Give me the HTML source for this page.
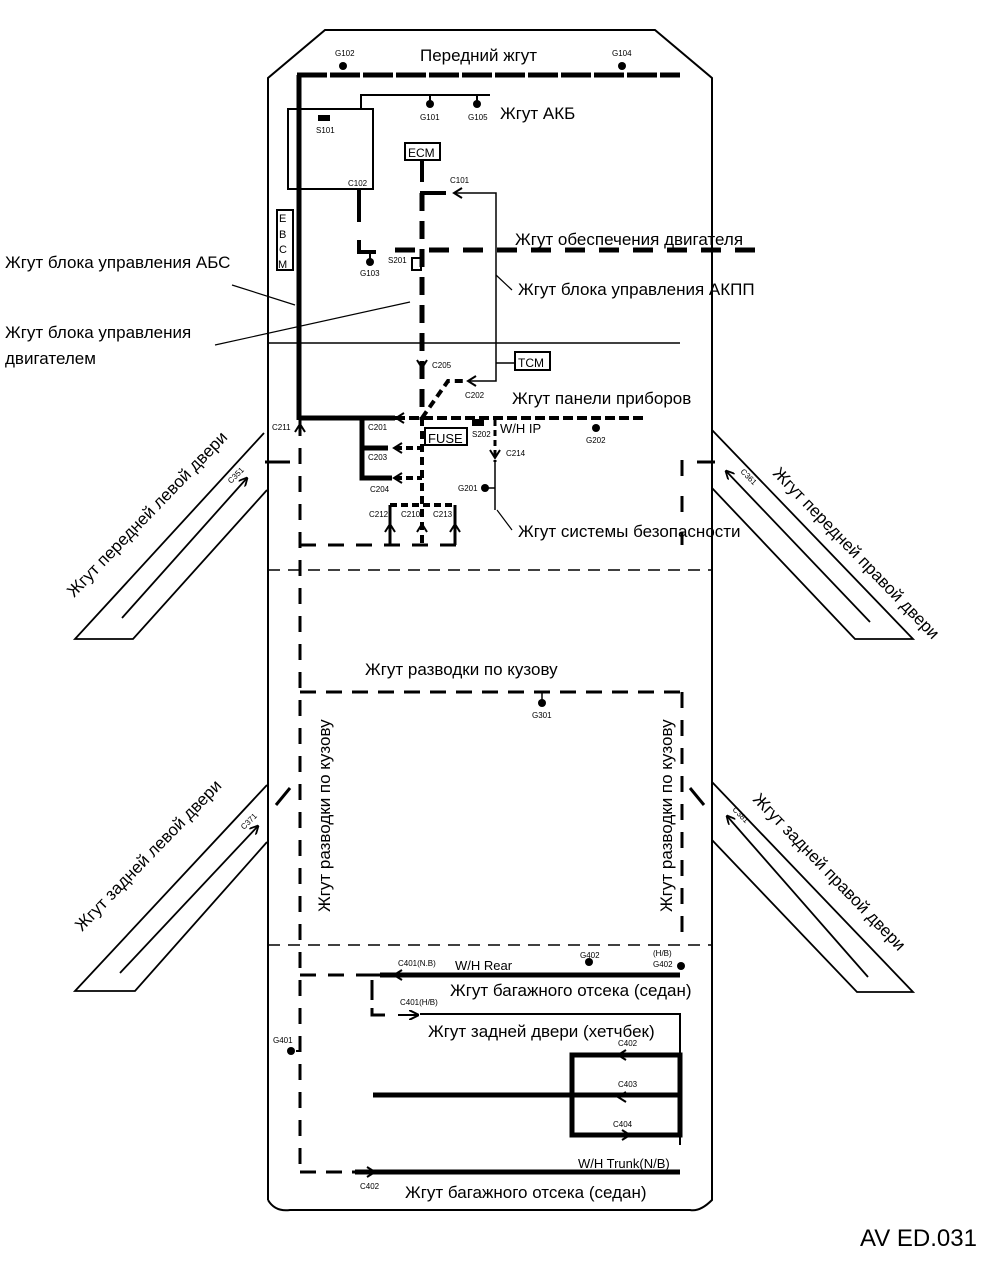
<!DOCTYPE html>
<html><head><meta charset="utf-8"><style>
html,body{margin:0;padding:0;background:#fff}
svg{display:block}
text{font-family:"Liberation Sans",sans-serif;fill:#000}
</style></head><body>
<svg width="995" height="1261" viewBox="0 0 995 1261" xmlns="http://www.w3.org/2000/svg">
<defs>
<marker id="ar" viewBox="0 0 10 10" refX="9" refY="5" markerWidth="5" markerHeight="5" orient="auto-start-reverse"><path d="M0,0 L10,5 L0,10" fill="none" stroke="#000" stroke-width="2"/></marker>
</defs>
<g fill="none" stroke="#000">
<path d="M268,1200 L268,78 L325,30 L655,30 L712,78 L712,1200 Q700,1212 690,1210 L290,1210 Q275,1212 268,1200" stroke-width="2"/>
<path d="M264,433 L75,639 L133,639 L267,490" stroke-width="1.8"/>
<line x1="122" y1="618" x2="247" y2="478" stroke-width="1.8" marker-end="url(#ar)"/>
<path d="M267,785 L75,991 L135,991 L267,842" stroke-width="1.8"/>
<line x1="120" y1="973" x2="258" y2="826" stroke-width="1.8" marker-end="url(#ar)"/>
<path d="M712,430 L913,639 L855,639 L712,488" stroke-width="1.8"/>
<line x1="726" y1="471" x2="870" y2="622" stroke-width="1.8" marker-start="url(#ar)"/>
<path d="M712,782 L913,992 L857,992 L712,840" stroke-width="1.8"/>
<line x1="727" y1="816" x2="868" y2="977" stroke-width="1.8" marker-start="url(#ar)"/>
<line x1="297" y1="75" x2="680" y2="75" stroke-width="5" stroke-dasharray="30,3"/>
<line x1="299" y1="75" x2="299" y2="420" stroke-width="5"/>
<rect x="288" y="109" width="85" height="80" stroke-width="2"/>
<polyline points="361,109 361,95 490,95" stroke-width="2"/>
<line x1="430" y1="95" x2="430" y2="103" stroke-width="2"/>
<line x1="477" y1="95" x2="477" y2="103" stroke-width="2"/>
<rect x="405" y="143" width="35" height="17" stroke-width="2"/>
<rect x="277" y="210" width="16" height="60" stroke-width="2"/>
<line x1="422" y1="160" x2="422" y2="182" stroke-width="4"/>
<line x1="422" y1="193" x2="422" y2="420" stroke-width="5" stroke-dasharray="18,10"/>
<line x1="420" y1="193" x2="446" y2="193" stroke-width="4"/>
<polyline points="456,193 496,193 496,381 470,381" stroke-width="1.5"/>
<path d="M462,188 L454,193 L462,198" stroke-width="2"/>
<path d="M476,376 L468,381 L476,386" stroke-width="2"/>
<line x1="496" y1="363" x2="515" y2="363" stroke-width="1.5"/>
<rect x="515" y="352" width="35" height="18" stroke-width="2"/>
<line x1="395" y1="250" x2="760" y2="250" stroke-width="5" stroke-dasharray="20,14"/>
<line x1="359" y1="190" x2="359" y2="222" stroke-width="4"/>
<polyline points="359,240 359,252 376,252" stroke-width="4"/>
<line x1="370" y1="252" x2="370" y2="260" stroke-width="2"/>
<rect x="412" y="258" width="9" height="12" stroke-width="2"/>
<line x1="268" y1="343" x2="680" y2="343" stroke-width="1.5"/>
<path d="M417,360 L422,368 L427,360" stroke-width="2"/>
<polyline points="422,418 448,381 466,381" stroke-width="4" stroke-dasharray="8,5"/>
<line x1="299" y1="418" x2="395" y2="418" stroke-width="5"/>
<line x1="395" y1="418" x2="645" y2="418" stroke-width="4" stroke-dasharray="10,4"/>
<path d="M404,413 L396,418 L404,423" stroke-width="2"/>
<polyline points="362,418 362,478 392,478" stroke-width="5"/>
<line x1="362" y1="448" x2="388" y2="448" stroke-width="5"/>
<line x1="395" y1="448" x2="422" y2="448" stroke-width="4" stroke-dasharray="7,4"/>
<line x1="395" y1="478" x2="422" y2="478" stroke-width="4" stroke-dasharray="7,4"/>
<path d="M402,443 L394,448 L402,453 M402,473 L394,478 L402,483" stroke-width="2"/>
<line x1="422" y1="418" x2="422" y2="545" stroke-width="4" stroke-dasharray="8,5"/>
<line x1="390" y1="505" x2="455" y2="505" stroke-width="4" stroke-dasharray="7,4"/>
<line x1="390" y1="505" x2="390" y2="545" stroke-width="3"/>
<line x1="455" y1="505" x2="455" y2="545" stroke-width="3"/>
<path d="M385,532 L390,524 L395,532 M417,532 L422,524 L427,532 M450,532 L455,524 L460,532 M295,432 L300,424 L305,432" stroke-width="2"/>
<rect x="425" y="428" width="42" height="17" stroke-width="2"/>
<line x1="495" y1="420" x2="495" y2="462" stroke-width="3" stroke-dasharray="6,4"/>
<line x1="495" y1="462" x2="495" y2="510" stroke-width="1.5"/>
<path d="M490,450 L495,458 L500,450" stroke-width="2"/>
<line x1="497" y1="510" x2="512" y2="530" stroke-width="1.2"/>
<line x1="488" y1="488" x2="495" y2="488" stroke-width="1.5"/>
<line x1="232" y1="285" x2="295" y2="305" stroke-width="1.2"/>
<line x1="215" y1="345" x2="410" y2="302" stroke-width="1.2"/>
<line x1="496" y1="275" x2="512" y2="290" stroke-width="1.2"/>
<line x1="300" y1="420" x2="300" y2="1172" stroke-width="3" stroke-dasharray="16,12"/>
<line x1="300" y1="545" x2="460" y2="545" stroke-width="3" stroke-dasharray="16,12"/>
<line x1="265" y1="462" x2="290" y2="462" stroke-width="3"/>
<line x1="682" y1="460" x2="682" y2="545" stroke-width="3" stroke-dasharray="16,20"/>
<line x1="697" y1="462" x2="715" y2="462" stroke-width="3"/>
<line x1="268" y1="570" x2="712" y2="570" stroke-width="1.5" stroke-dasharray="12,8"/>
<line x1="300" y1="692" x2="682" y2="692" stroke-width="3" stroke-dasharray="16,10"/>
<line x1="682" y1="692" x2="682" y2="940" stroke-width="3" stroke-dasharray="16,12"/>
<line x1="268" y1="945" x2="712" y2="945" stroke-width="1.5" stroke-dasharray="12,8"/>
<line x1="276" y1="805" x2="290" y2="788" stroke-width="3"/>
<line x1="690" y1="788" x2="704" y2="805" stroke-width="3"/>
<line x1="542" y1="692" x2="542" y2="703" stroke-width="1.5"/>
<line x1="300" y1="975" x2="380" y2="975" stroke-width="3" stroke-dasharray="16,12"/>
<line x1="380" y1="975" x2="680" y2="975" stroke-width="5"/>
<path d="M402,970 L394,975 L402,980" stroke-width="2"/>
<line x1="365" y1="975" x2="380" y2="975" stroke-width="3"/>
<line x1="372" y1="980" x2="372" y2="1000" stroke-width="3"/>
<polyline points="372,1008 372,1015 385,1015" stroke-width="3"/>
<line x1="398" y1="1015" x2="418" y2="1015" stroke-width="2" marker-end="url(#ar)"/>
<polyline points="420,1014 680,1014 680,1145" stroke-width="2"/>
<rect x="572" y="1055" width="108" height="80" stroke-width="5"/>
<line x1="373" y1="1095" x2="680" y2="1095" stroke-width="5"/>
<path d="M626,1050 L618,1055 L626,1060 M626,1092 L618,1097 L626,1102 M622,1130 L630,1135 L622,1140" stroke-width="2"/>
<line x1="300" y1="1172" x2="355" y2="1172" stroke-width="3" stroke-dasharray="16,10"/>
<line x1="355" y1="1172" x2="680" y2="1172" stroke-width="5"/>
<path d="M367,1167 L375,1172 L367,1177" stroke-width="2"/>
<line x1="296" y1="1051" x2="300" y2="1051" stroke-width="2"/>
</g>
<g fill="#000">
<circle cx="343" cy="66" r="4"/><circle cx="622" cy="66" r="4"/>
<circle cx="430" cy="104" r="4"/><circle cx="477" cy="104" r="4"/>
<circle cx="370" cy="262" r="4"/><circle cx="596" cy="428" r="4"/>
<circle cx="485" cy="488" r="4"/><circle cx="542" cy="703" r="4"/>
<circle cx="589" cy="962" r="4"/><circle cx="681" cy="966" r="4"/>
<circle cx="291" cy="1051" r="4"/>
<rect x="318" y="115" width="12" height="6"/><rect x="472" y="419" width="12" height="7"/>
</g>
<g font-size="8">
<text x="335" y="56">G102</text><text x="612" y="56">G104</text>
<text x="316" y="133">S101</text><text x="348" y="186">C102</text>
<text x="420" y="120">G101</text><text x="468" y="120">G105</text>
<text x="450" y="183">C101</text><text x="360" y="276">G103</text><text x="388" y="263">S201</text>
<text x="432" y="368">C205</text><text x="465" y="398">C202</text>
<text x="272" y="430">C211</text><text x="368" y="430">C201</text><text x="368" y="460">C203</text><text x="370" y="492">C204</text>
<text x="369" y="517">C212</text><text x="401" y="517">C210</text><text x="433" y="517">C213</text>
<text x="472" y="437">S202</text><text x="506" y="456">C214</text><text x="458" y="491">G201</text><text x="586" y="443">G202</text>
<text transform="translate(231,484) rotate(-45)">C351</text>
<text transform="translate(244,830) rotate(-45)">C371</text>
<text transform="translate(740,472) rotate(45)">C361</text>
<text transform="translate(732,810) rotate(45)">C381</text>
<text x="532" y="718">G301</text><text x="273" y="1043">G401</text>
<text x="398" y="966">C401(N.B)</text><text x="400" y="1005">C401(H/B)</text>
<text x="580" y="958">G402</text><text x="653" y="956">(H/B)</text><text x="653" y="967">G402</text>
<text x="618" y="1046">C402</text><text x="618" y="1087">C403</text><text x="613" y="1127">C404</text>
<text x="360" y="1189">C402</text>
</g>
<g font-size="17">
<text x="420" y="61">Передний жгут</text>
<text x="500" y="119">Жгут АКБ</text>
<text x="408" y="157" font-size="12">ECM</text>
<text x="279" y="222" font-size="11">E</text><text x="279" y="238" font-size="11">B</text><text x="279" y="253" font-size="11">C</text><text x="278" y="268" font-size="11">M</text>
<text x="515" y="245">Жгут обеспечения двигателя</text>
<text x="518" y="295">Жгут блока управления АКПП</text>
<text x="5" y="268">Жгут блока управления АБС</text>
<text x="5" y="338">Жгут блока управления</text>
<text x="5" y="364">двигателем</text>
<text x="518" y="367" font-size="12">TCM</text>
<text x="512" y="404">Жгут панели приборов</text>
<text x="428" y="443" font-size="13">FUSE</text>
<text x="500" y="433" font-size="13">W/H IP</text>
<text x="518" y="537">Жгут системы безопасности</text>
<text x="365" y="675">Жгут разводки по кузову</text>
<text transform="translate(330,912) rotate(-90)">Жгут разводки по кузову</text>
<text transform="translate(672,912) rotate(-90)">Жгут разводки по кузову</text>
<text transform="translate(74,598) rotate(-46)">Жгут передней левой двери</text>
<text transform="translate(82,932) rotate(-46)">Жгут задней левой двери</text>
<text transform="translate(772,474) rotate(46)">Жгут передней правой двери</text>
<text transform="translate(752,800) rotate(46)">Жгут задней правой двери</text>
<text x="455" y="970" font-size="13">W/H  Rear</text>
<text x="450" y="996">Жгут багажного отсека (седан)</text>
<text x="428" y="1037">Жгут задней двери (хетчбек)</text>
<text x="578" y="1168" font-size="13">W/H  Trunk(N/B)</text>
<text x="405" y="1198">Жгут багажного отсека (седан)</text>
<text x="860" y="1246" font-size="24">AV ED.031</text>
</g>
</svg>
</body></html>
